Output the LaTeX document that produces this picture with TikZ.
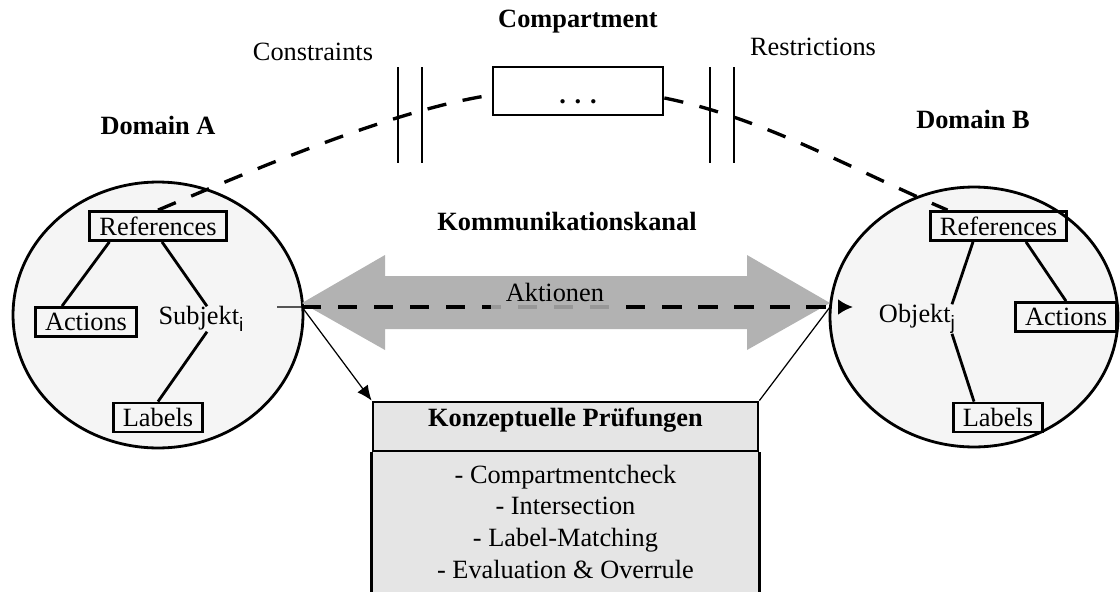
\documentclass[tikz,border=0pt]{standalone}
\usepackage{fontspec}
\setmainfont{Liberation Serif}
\setsansfont{Liberation Sans}
\usetikzlibrary{shapes.geometric,arrows.meta}
\newcommand{\idx}[1]{\raisebox{-0.13cm}{\fontsize{11}{11}\selectfont\sffamily #1}}
\begin{document}
\begin{tikzpicture}[x=0.02cm, y=-0.02cm, font=\fontsize{15}{18.1}\selectfont,
	>={Latex[length=0.3cm,width=0.26cm]},
	domaene/.style={ellipse, draw, line width=1.6pt, fill=black!4, inner sep=0pt},
	kasten/.style={draw, line width=1.6pt, inner xsep=5.5pt, inner ysep=0pt, minimum height=0.58cm},
	strich/.style={line width=1.6pt},
	gestrichelt/.style={line width=1.9pt, dash pattern=on 11pt off 9.5pt},
	duenn/.style={line width=0.7pt},
	titel/.style={font=\fontsize{15}{18.1}\selectfont\bfseries}]
	\useasboundingbox (0,0) rectangle (1120,592);
	
	%	Titel
	\node[titel] (tComp) at (578,22) {Compartment};
	\node (tCons) at (313,52) {Constraints};
	\node (tRest) at (813,47) {Restrictions};
	\node[titel] (tDomA) at (158,125) {Domain A};
	\node[titel] (tDomB) at (973,119) {Domain B};
	\node[titel] (tKanal) at (567,222) {Kommunikationskanal};
	
	%	Domaenen
	\node[domaene, minimum width=5.8cm, minimum height=5.32cm] (domA) at (158,315) {};
	\node[domaene, minimum width=5.76cm, minimum height=5.2cm] (domB) at (974,317) {};
	\path
	(302,307) coordinate (tipA)
	(830,307) coordinate (tipB)
	(277,307) coordinate (stubA)
	;
	
	%	Kanal
	\fill[gray!60] (302,303) -- (385,255) -- (385,276) -- (747,276) -- (747,255) -- (830,303)
	-- (747,350) -- (747,329) -- (385,329) -- (385,350) -- cycle;
	
	%	Domain A
	\node[kasten] (refA) at (158,226) {References};
	\node[kasten] (actA) at (86,322) {Actions};
	\node[kasten] (labA) at (158,417.5) {Labels};
	\node[inner sep=0pt] (subjA) at (201,319) {Subjekt\idx{i}};
	\draw[strich] ([xshift=0.42cm]refA.south west) -- ([xshift=-0.48cm]actA.north);
	\draw[strich] ([xshift=0.08cm]refA.south) -- ([xshift=0.12cm]subjA.north);
	\draw[strich] ([xshift=0.12cm]subjA.south) -- (labA.north);
	
	%	Domain B
	\node[kasten] (refB) at (998.5,226) {References};
	\node[kasten] (actB) at (1066,317) {Actions};
	\node[kasten] (labB) at (998,417.5) {Labels};
	\node[inner sep=0pt] (objB) at (917,319) {Objekt\idx{j}};
	\draw[strich] ([xshift=-0.51cm]refB.south) -- ([xshift=0.7cm]objB.north);
	\draw[strich] ([xshift=0.55cm]refB.south) -- (actB.north);
	\draw[strich] ([xshift=0.7cm]objB.south) -- ([xshift=-0.48cm]labB.north);
	
	%	Compartment
	\node[kasten, minimum width=3.4cm, minimum height=0.96cm] (comp) at (578,91) {};
	\node[anchor=base] (punkte) at ([yshift=-0.26cm]comp.center) {\textbf{.\,\,.\,\,.}};
	\foreach \x in {398,422,710,734}\draw[strich] (\x,67) -- (\x,163);
	\draw[gestrichelt] (refA.north) .. controls (258,168) and (393,110) .. ([yshift=-0.08cm]comp.west);
	\draw[gestrichelt] ([yshift=-0.14cm]comp.east) .. controls (763,118) and (847,167) .. ([xshift=-1.02cm]refB.north);
	
	%	Aktionen
	\draw[gestrichelt, -{Latex[length=0.3cm,width=0.32cm]}] (tipA) -- ([xshift=0.46cm]tipB);
	\node[anchor=base, fill=gray!60, fill opacity=0.85, text opacity=1, inner xsep=0.3cm, inner ysep=1pt, text depth=0.24cm] (akt) at (555,301) {Aktionen};
	
	%	Pruefungen
	\node[kasten, fill=black!10, minimum width=7.7cm, minimum height=0.98cm, text height=0.35cm, text depth=0.35cm, titel] (kopf) at (565.5,426.5) {Konzeptuelle Prüfungen};
	\fill[black!10] (kopf.south west) rectangle ([yshift=-3.4cm]kopf.south east);
	\draw[strich] (kopf.south west) -- ++(0,170) (kopf.south east) -- ++(0,170);
	\node[anchor=north, inner sep=0pt, align=center] (liste) at (565.5,464.5) {- Compartmentcheck\\- Intersection\\- Label-Matching\\- Evaluation \& Overrule};
	\draw[duenn, ->] (stubA) -- (tipA) -- (kopf.north west);
	\draw[duenn] (kopf.north east) -- (tipB);
\end{tikzpicture}
\end{document}
